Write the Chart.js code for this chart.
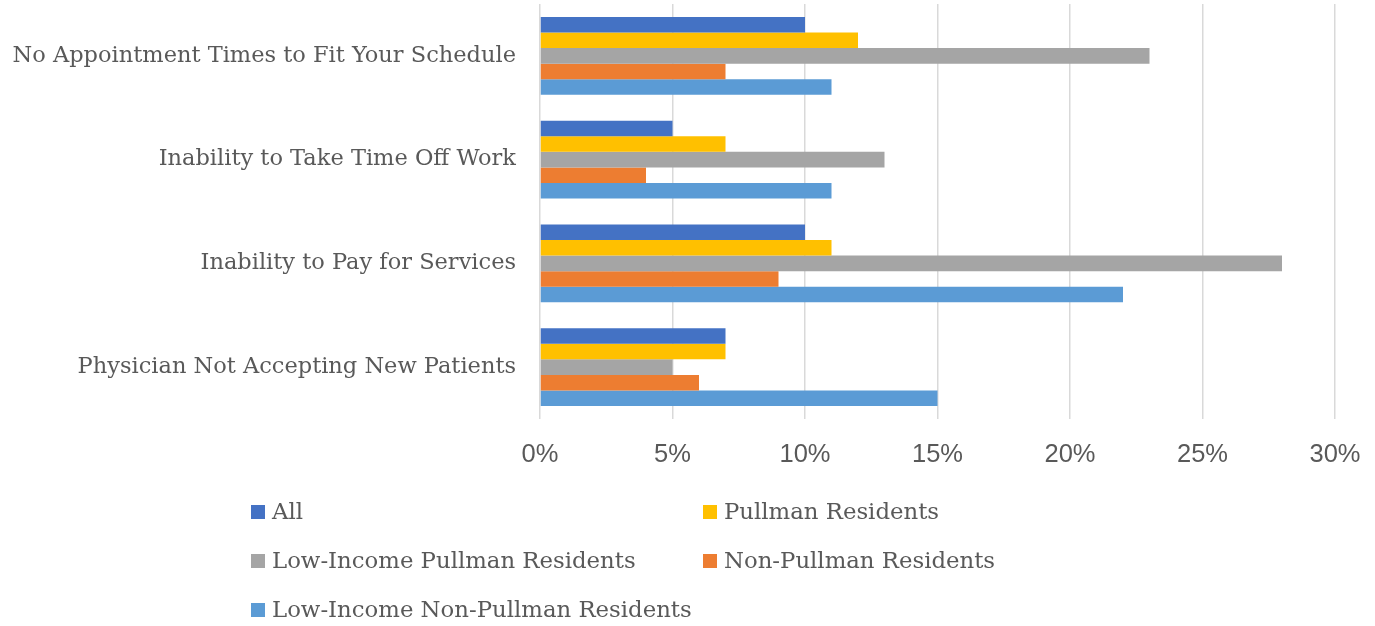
<!DOCTYPE html>
<html>
<head>
<meta charset="utf-8">
<script src="https://cdn.jsdelivr.net/npm/chart.js@4"></script>
<style>
  html, body { margin: 0; padding: 0; background: #fff; }
  #wrap { width: 1375px; height: 626px; }
</style>
</head>
<body>
<div id="wrap"><canvas id="chart"></canvas></div>
<script>
// categories, top to bottom
const categories = [
  'No Appointment Times to Fit Your Schedule',
  'Inability to Take Time Off Work',
  'Inability to Pay for Services',
  'Physician Not Accepting New Patients'
];

// percent of respondents, one array per group
const allResidents      = [10, 5, 10, 7];
const pullman           = [12, 7, 11, 7];
const lowIncomePullman  = [23, 13, 28, 5];
const nonPullman        = [7, 4, 9, 6];
const lowIncomeNonPull  = [11, 11, 22, 15];

const seriesNames = [
  'All',
  'Pullman Residents',
  'Low-Income Pullman Residents',
  'Non-Pullman Residents',
  'Low-Income Non-Pullman Residents'
];
const seriesValues = [allResidents, pullman, lowIncomePullman, nonPullman, lowIncomeNonPull];
const seriesColors = ['#4472C4', '#FFC000', '#A5A5A5', '#ED7D31', '#5B9BD5'];

const TEXT = '#595959';
const SERIF = '"DejaVu Serif", serif';

// two-column legend under the axis, like the original
const gridLegend = {
  id: 'gridLegend',
  afterDraw(chart) {
    const ctx = chart.ctx;
    const cols = [251, 703];
    const rows = [512, 561, 610];
    ctx.save();
    ctx.font = '22.8px ' + SERIF;
    ctx.textBaseline = 'middle';
    chart.data.datasets.forEach((ds, i) => {
      const x = cols[i % 2];
      const y = rows[Math.floor(i / 2)];
      ctx.fillStyle = ds.backgroundColor;
      ctx.fillRect(x, y - 7, 14, 14);
      ctx.fillStyle = TEXT;
      ctx.fillText(ds.label, x + 21, y + 1);
    });
    ctx.restore();
  }
};

new Chart(document.getElementById('chart'), {
  type: 'bar',
  data: {
    labels: categories,
    datasets: seriesNames.map((name, i) => ({
      label: name,
      data: seriesValues[i],
      backgroundColor: seriesColors[i],
      borderWidth: 0,
      barPercentage: 1,
      categoryPercentage: 0.75
    }))
  },
  options: {
    indexAxis: 'y',
    responsive: true,
    maintainAspectRatio: false,
    animation: false,
    layout: { padding: { top: 4, right: 40, bottom: 0, left: 0 } },
    plugins: {
      legend: { display: false },
      tooltip: { enabled: false }
    },
    scales: {
      x: {
        min: 0,
        max: 30,
        ticks: {
          stepSize: 5,
          padding: 21,
          color: TEXT,
          font: { family: '"Liberation Sans", Arial, sans-serif', size: 25.5 },
          callback: v => v + '%'
        },
        grid: { color: '#d9d9d9', lineWidth: 1.5, drawTicks: false },
        border: { display: false },
        afterFit: s => { s.height = 207; s.paddingLeft = 0; s.paddingRight = 0; }
      },
      y: {
        ticks: {
          padding: 24,
          color: TEXT,
          font: { family: SERIF, size: 22.5 }
        },
        grid: { display: false, drawTicks: false },
        border: { display: false },
        afterFit: s => { s.width = 540; s.paddingTop = 0; s.paddingBottom = 0; }
      }
    }
  },
  plugins: [gridLegend]
});
</script>
</body>
</html>
